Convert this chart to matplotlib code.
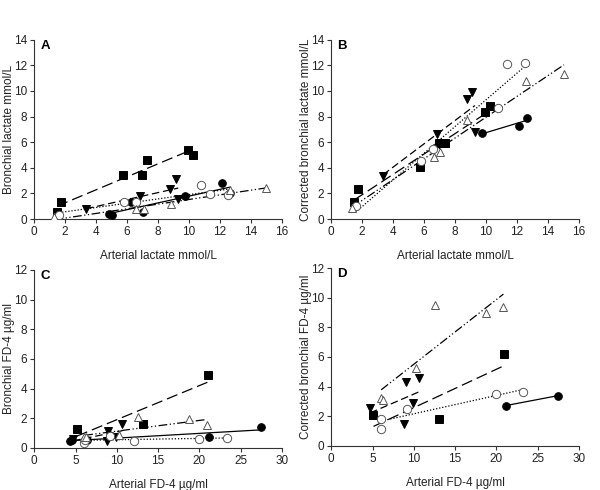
import numpy as np
import matplotlib
matplotlib.use("Agg")
import matplotlib.pyplot as plt

plt.rcParams['font.family'] = ['Liberation Sans', 'DejaVu Sans']

# ---------------- Panel A: bronchial lactate vs arterial lactate ----------------
a_sq_x = [1.48, 1.74, 5.71, 6.96, 7.30, 9.90, 10.24]
a_sq_y = [0.57, 1.36, 3.42, 3.42, 4.60, 5.38, 5.01]
a_dt_x = [3.35, 6.85, 8.78, 9.13, 9.30]
a_dt_y = [0.76, 1.78, 2.38, 3.16, 1.54]
a_fc_x = [4.83, 5.03, 6.27, 7.00, 9.75, 12.13, 12.63]
a_fc_y = [0.42, 0.29, 1.36, 0.55, 1.78, 2.82, 2.04]
a_oc_x = [1.60, 5.82, 6.57, 10.74, 11.38, 12.54]
a_oc_y = [0.30, 1.36, 1.36, 2.69, 1.98, 1.85]
a_ot_x = [1.31, 6.60, 7.09, 8.83, 12.63, 14.99]
a_ot_y = [0.16, 0.76, 0.81, 1.20, 2.25, 2.43]

# ---------------- Panel B: corrected bronchial lactate ----------------
b_sq_x = [1.48, 1.74, 5.71, 6.94, 7.13, 7.35, 9.92, 10.27]
b_sq_y = [1.36, 2.32, 4.07, 5.90, 5.90, 5.90, 8.38, 8.83]
b_dt_x = [3.35, 6.85, 8.76, 9.11, 9.28]
b_dt_y = [3.34, 6.66, 9.35, 9.90, 6.82]
b_fc_x = [9.73, 12.13, 12.67]
b_fc_y = [6.69, 7.29, 7.91]
b_oc_x = [1.57, 5.82, 6.59, 10.76, 11.34, 12.54]
b_oc_y = [1.02, 4.54, 5.46, 8.70, 12.12, 12.17]
b_ot_x = [1.33, 6.64, 7.00, 8.80, 12.60, 15.03]
b_ot_y = [0.86, 4.83, 5.22, 7.73, 10.76, 11.33]

# ---------------- Panel C: bronchial FD-4 vs arterial FD-4 ----------------
c_sq_x = [5.16, 13.22, 21.00]
c_sq_y = [1.28, 1.64, 4.94]
c_dt_x = [4.72, 8.87, 8.99, 9.92, 10.65]
c_dt_y = [0.60, 0.47, 1.17, 0.76, 1.62]
c_fc_x = [4.30, 4.60, 6.40, 21.20, 27.50]
c_fc_y = [0.48, 0.55, 0.55, 0.76, 1.40]
c_oc_x = [6.05, 6.09, 9.19, 12.14, 20.00, 23.35]
c_oc_y = [0.30, 0.55, 0.83, 0.48, 0.62, 0.66]
c_ot_x = [6.05, 6.25, 10.30, 12.54, 18.80, 20.90]
c_ot_y = [0.70, 0.75, 0.88, 2.05, 1.93, 1.53]

# ---------------- Panel D: corrected bronchial FD-4 ----------------
d_sq_x = [5.12, 13.10, 20.93]
d_sq_y = [2.09, 1.82, 6.20]
d_dt_x = [4.72, 8.83, 9.03, 9.88, 10.64]
d_dt_y = [2.54, 1.48, 4.34, 2.88, 4.58]
d_fc_x = [21.13, 27.46]
d_fc_y = [2.72, 3.39]
d_oc_x = [6.05, 6.05, 9.15, 19.92, 23.27]
d_oc_y = [1.84, 1.12, 2.52, 3.48, 3.66]
d_ot_x = [6.05, 6.25, 10.30, 12.58, 18.70, 20.85]
d_ot_y = [3.26, 3.10, 5.24, 9.53, 8.95, 9.39]

styles = {
    'sq': dict(marker='s', mfc='black', mec='black', ls=(0, (9, 4)), ms=5.3),
    'dt': dict(marker='v', mfc='black', mec='black', ls=(0, (6, 3)), ms=6.0),
    'fc': dict(marker='o', mfc='black', mec='black', ls='-', ms=5.5),
    'oc': dict(marker='o', mfc='white', mec='#555555', ls=(0, (1, 1.5)), ms=6.0),
    'ot': dict(marker='^', mfc='white', mec='#555555', ls=(0, (7, 2, 1, 2, 1, 2)), ms=6.0),
}

fig = plt.figure(figsize=(6.0, 4.9), dpi=100)
FS = 8.5
TXT = '#222222'

def panel(rect, series, xlim, xticks, ylim, yticks, ylabel, letter):
    ax = fig.add_axes(rect)
    for key, x, y in series:
        st = styles[key]
        x = np.asarray(x); y = np.asarray(y)
        m, b = np.polyfit(x, y, 1)
        xs = np.array([x.min(), x.max()])
        ax.plot(xs, m * xs + b, color='black', lw=0.9, ls=st['ls'], zorder=2)
        ax.plot(x, y, ls='none', marker=st['marker'], ms=st['ms'],
                mfc=st['mfc'], mec=st['mec'], mew=0.7, zorder=3)
    ax.set_xlim(*xlim); ax.set_ylim(*ylim)
    ax.set_xticks(xticks); ax.set_yticks(yticks)
    for s in ['top', 'right']:
        ax.spines[s].set_visible(False)
    for s in ['left', 'bottom']:
        ax.spines[s].set_color('#333333')
        ax.spines[s].set_linewidth(0.8)
    ax.tick_params(direction='out', length=3, width=0.8, labelsize=FS,
                   colors='#333333', labelcolor=TXT, pad=2)
    ax.set_ylabel(ylabel, fontsize=FS, color=TXT)
    ax.yaxis.set_label_coords(-0.077, 0.5)
    ax.text(0.025, 1.0, letter, transform=ax.transAxes, fontsize=9.5,
            fontweight='bold', va='top', ha='left')
    return ax

lx = [0, 2, 4, 6, 8, 10, 12, 14, 16]
ly = [0, 2, 4, 6, 8, 10, 12, 14]
fx = [0, 5, 10, 15, 20, 25, 30]
fy = [0, 2, 4, 6, 8, 10, 12]

axA = panel([0.057, 0.553, 0.413, 0.366],
            [('sq', a_sq_x, a_sq_y), ('dt', a_dt_x, a_dt_y), ('fc', a_fc_x, a_fc_y),
             ('oc', a_oc_x, a_oc_y), ('ot', a_ot_x, a_ot_y)],
            (0, 16), lx, (0, 14), ly, 'Bronchial lactate mmol/L', 'A')
axB = panel([0.552, 0.553, 0.413, 0.366],
            [('sq', b_sq_x, b_sq_y), ('dt', b_dt_x, b_dt_y), ('fc', b_fc_x, b_fc_y),
             ('oc', b_oc_x, b_oc_y), ('ot', b_ot_x, b_ot_y)],
            (0, 16), lx, (0, 14), ly, 'Corrected bronchial lactate mmol/L', 'B')
axC = panel([0.057, 0.086, 0.413, 0.363],
            [('sq', c_sq_x, c_sq_y), ('dt', c_dt_x, c_dt_y), ('fc', c_fc_x, c_fc_y),
             ('oc', c_oc_x, c_oc_y), ('ot', c_ot_x, c_ot_y)],
            (0, 30), fx, (0, 12), fy, 'Bronchial FD-4 \u00b5g/ml', 'C')
axD = panel([0.552, 0.090, 0.413, 0.363],
            [('sq', d_sq_x, d_sq_y), ('dt', d_dt_x, d_dt_y), ('fc', d_fc_x, d_fc_y),
             ('oc', d_oc_x, d_oc_y), ('ot', d_ot_x, d_ot_y)],
            (0, 30), fx, (0, 12), fy, 'Corrected bronchial FD-4 \u00b5g/ml', 'D')

for ax in (axA, axB):
    ax.set_xlabel('Arterial lactate mmol/L', fontsize=FS, color=TXT, labelpad=9)
for ax in (axC, axD):
    ax.set_xlabel('Arterial FD-4 \u00b5g/ml', fontsize=FS, color=TXT, labelpad=9)

fig.savefig('out.png', dpi=100)
